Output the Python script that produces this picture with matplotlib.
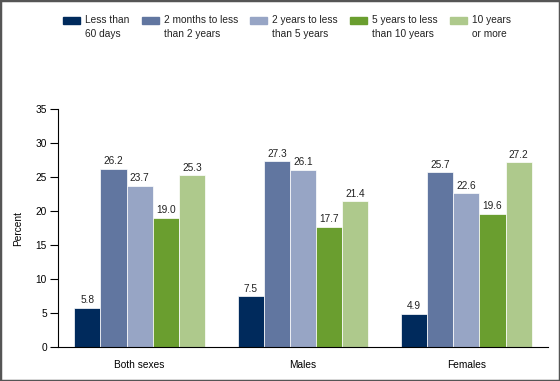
import matplotlib
matplotlib.use('Agg')
import matplotlib.pyplot as plt
import matplotlib.patches as mpatches
import numpy as np

plt.rcParams['font.family'] = ['Liberation Sans', 'DejaVu Sans']

groups = ['Both sexes', 'Males', 'Females']
series = ['Less than\n60 days', '2 months to less\nthan 2 years', '2 years to less\nthan 5 years',
          '5 years to less\nthan 10 years', '10 years\nor more']
values = [
    [5.8, 7.5, 4.9],
    [26.2, 27.3, 25.7],
    [23.7, 26.1, 22.6],
    [19.0, 17.7, 19.6],
    [25.3, 21.4, 27.2],
]
colors = ['#002a5c', '#6176a0', '#97a5c5', '#6a9e2f', '#aec98c']

W, H = 560, 381
fig = plt.figure(figsize=(W / 100, H / 100), dpi=100)
ax = fig.add_axes([58 / W, 34 / H, 490 / W, 238 / H])

FS = 7.3
x = np.arange(len(groups))
bw = 0.16
for i, (vals, c) in enumerate(zip(values, colors)):
    pos = x + (i - 2) * bw
    ax.bar(pos, vals, width=bw, color=c, edgecolor='white', linewidth=0.5)
    for p, v in zip(pos, vals):
        ax.text(p, v + 0.35, f'{v:.1f}', ha='center', va='bottom', fontsize=FS, color='#222222')

ax.set_xlim(-0.5, 2.5)
ax.set_ylim(0, 35)
ax.set_yticks(range(0, 36, 5))
ax.set_xticks(x)
ax.set_xticklabels(groups, fontsize=FS)
ax.tick_params(axis='y', labelsize=FS, length=6, direction='out', width=0.8, pad=2)
ax.tick_params(axis='x', length=0, pad=9)
ax.set_ylabel('Percent', fontsize=FS, labelpad=9)
ax.spines['top'].set_visible(False)
ax.spines['right'].set_visible(False)

# legend drawn by hand: swatch aligned with the first text line
swatch_x = [63, 142, 250, 350, 450]
text_dx = 22
for sx, c, label in zip(swatch_x, colors, series):
    fig.patches.append(mpatches.Rectangle((sx / W, (H - 24) / H), 17 / W, 7 / H,
                                          transform=fig.transFigure, color=c))
    fig.text((sx + text_dx) / W, (H - 15) / H, label, fontsize=FS, ha='left', va='top',
             linespacing=1.45, color='#222222')

border = mpatches.Rectangle((0, 0), 1, 1, transform=fig.transFigure, fill=False,
                            edgecolor='#555555', linewidth=2.5)
fig.patches.append(border)

fig.savefig('out.png', dpi=100)
